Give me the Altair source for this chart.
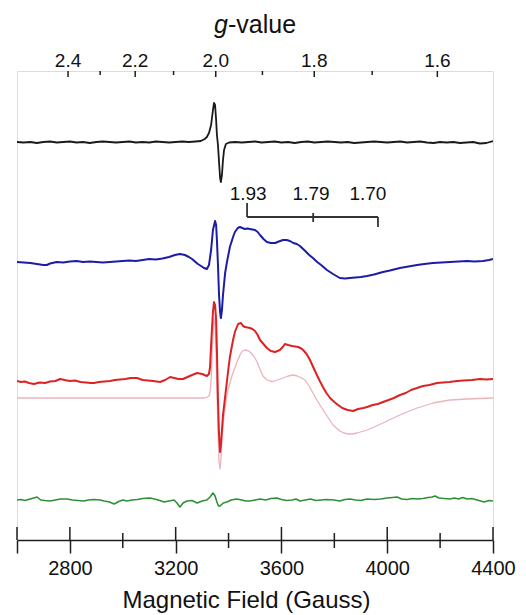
import altair as alt
import pandas as pd

FONT = "Liberation Sans"
INK = "#1e1e1e"

# ---------------- axes ----------------
field_domain = [2600, 4400]
field_major = [2600, 2800, 3200, 3600, 4000, 4400]
field_minor = [3000, 3400, 3800, 4200]
mw_freq_ghz = 9.382          # field (G) = 714.477 * freq / g
g_major = [2.4, 2.2, 2.0, 1.8, 1.6]
g_minor = [2.3, 2.1, 1.9, 1.7]

# annotation bracket (g = 1.93, 1.79, 1.70)
bracket_labels = ["1.93", "1.79", "1.70"]
bracket_label_field = [3474, 3712, 3927]
bracket_tick_field = [3470, 3720, 3965]
bracket_tick_lo = [323, 318, 313]
bracket_tick_hi = [337, 327, 323]
bracket_level = 323
bracket_label_level = 340

# ---------------- traces (offset intensity, arbitrary units) ----------------
black_field = [2600, 2625, 2650, 2675, 2700, 2725, 2750, 2775, 2800, 2825, 2850, 2875, 2900, 2925,
               2950, 2975, 3000, 3025, 3050, 3075, 3100, 3125, 3150, 3175, 3200, 3225, 3250, 3275,
               3295, 3310, 3318, 3326, 3334, 3341, 3345, 3349, 3353, 3356, 3360, 3364, 3368, 3371,
               3375, 3379, 3383, 3390, 3402, 3425, 3450, 3475, 3500, 3525, 3550, 3575, 3600, 3625,
               3650, 3675, 3700, 3725, 3750, 3775, 3800, 3825, 3850, 3875, 3900, 3925, 3950, 3975,
               4000, 4025, 4050, 4075, 4100, 4125, 4150, 4175, 4200, 4225, 4250, 4275, 4300, 4325,
               4350, 4375, 4400]
black_val = [398, 397.5, 398, 397, 398, 398.5, 397.5, 398, 398.5, 397.5, 398, 397, 398, 398.5,
             398, 397.5, 398, 398.5, 397.5, 398, 397.5, 398.5, 398, 397.5, 398, 398.5, 398, 398.5,
             399, 401, 403, 407, 415, 430, 437, 435, 420, 405, 395, 378, 362, 358,
             365, 380, 390, 396, 397.5, 398, 397.5, 398, 398.5, 397.5, 398, 398.5, 397.5, 398,
             397, 398, 398.5, 397.5, 398, 398.5, 398, 397.5, 398, 397, 397.5, 398, 398.5, 398,
             397.5, 398, 398.5, 397.5, 398, 398.5, 397.5, 397, 398, 397.5, 398, 397, 397.5, 398,
             396.5, 397, 399]

blue_field = [2600, 2625, 2650, 2675, 2700, 2713, 2725, 2750, 2775, 2800, 2825, 2850, 2875, 2900,
              2925, 2950, 2975, 3000, 3025, 3050, 3075, 3100, 3125, 3150, 3175, 3197, 3216, 3235,
              3250, 3262, 3275, 3284, 3296, 3307, 3318, 3326, 3334, 3341, 3349, 3353, 3356, 3360,
              3364, 3368, 3371, 3375, 3379, 3387, 3394, 3405, 3417, 3424, 3435, 3443, 3452, 3462,
              3472, 3481, 3490, 3500, 3510, 3519, 3532, 3545, 3560, 3576, 3590, 3606, 3620, 3632,
              3645, 3658, 3670, 3690, 3705, 3719, 3735, 3750, 3772, 3795, 3821, 3840, 3859, 3880,
              3900, 3924, 3950, 3984, 4010, 4048, 4080, 4113, 4140, 4173, 4205, 4237, 4270, 4302,
              4330, 4362, 4385, 4400]
blue_val = [278, 277.5, 277, 276, 275, 275, 276.5, 278, 277.5, 278.5, 279, 278, 278.5, 278,
            277.5, 278, 278.5, 279, 279.5, 279, 280, 281, 280.5, 281.5, 283, 285, 286, 285,
            283, 281, 278, 276, 274, 272, 271, 275, 290, 310, 319, 315, 300, 275,
            245, 228, 222, 230, 245, 267, 278, 293, 303, 308, 312, 313, 312, 311,
            311.5, 311, 310.5, 310, 308, 305, 301, 298, 297, 297, 298.5, 300, 300, 299,
            297, 296, 294, 289, 285, 282, 278, 275, 270, 266, 262, 261.5, 262, 262.5,
            263, 264, 265.5, 268, 269.5, 272, 273.5, 275, 276, 277, 277.5, 278, 278.5, 279,
            278.5, 279, 280, 281]

red_field = [2600, 2615, 2630, 2645, 2664, 2685, 2706, 2725, 2745, 2763, 2780, 2800, 2819, 2840,
             2860, 2880, 2891, 2910, 2930, 2952, 2970, 2990, 3010, 3030, 3054, 3075, 3095, 3115,
             3141, 3160, 3179, 3195, 3210, 3228, 3245, 3262, 3281, 3300, 3318, 3326, 3330, 3334,
             3337, 3341, 3345, 3349, 3353, 3356, 3360, 3364, 3368, 3371, 3375, 3379, 3387, 3398,
             3405, 3417, 3424, 3436, 3447, 3455, 3462, 3472, 3481, 3490, 3500, 3510, 3519, 3532,
             3545, 3560, 3576, 3594, 3605, 3613, 3625, 3640, 3652, 3663, 3675, 3682, 3695, 3708,
             3720, 3734, 3745, 3757, 3770, 3784, 3800, 3814, 3830, 3850, 3871, 3890, 3910, 3924,
             3945, 3965, 3984, 4005, 4025, 4048, 4070, 4090, 4113, 4135, 4160, 4188, 4210, 4235,
             4264, 4290, 4320, 4351, 4375, 4400]
red_val = [159, 158, 158.5, 157, 156, 157.5, 157, 158.5, 159, 161, 160, 159, 159.5, 158,
           157.5, 157, 157, 158, 158.5, 159, 160, 160.5, 161, 162, 162, 160, 159.5, 159,
           158, 160, 163, 162, 161, 161, 163, 165, 167, 166, 164, 166, 173, 195,
           210, 228, 238, 235, 220, 190, 140, 105, 88, 95, 110, 125, 143, 168,
           183, 200, 208, 216, 217, 214, 213, 212.5, 212, 211, 209, 205, 200, 196,
           192, 189, 188, 190, 193, 196, 195, 194, 193.5, 193, 191.5, 190, 186, 180,
           173, 165, 159, 153, 147, 142, 138, 135, 132, 130, 129, 131, 132, 133,
           135, 136, 138, 140, 142, 145, 147, 150, 152, 154, 155, 157, 157.5, 158,
           159, 159.5, 160, 161, 160.5, 161]

pink_field = [2600, 3000, 3310, 3320, 3326, 3330, 3334, 3337, 3341, 3345, 3349, 3353, 3356, 3360,
              3364, 3368, 3371, 3375, 3381, 3387, 3396, 3405, 3414, 3421, 3432, 3443, 3452, 3462,
              3472, 3481, 3495, 3508, 3520, 3530, 3545, 3557, 3568, 3585, 3606, 3625, 3644, 3660,
              3675, 3689, 3705, 3719, 3734, 3750, 3765, 3780, 3795, 3808, 3821, 3836, 3852, 3869,
              3886, 3905, 3924, 3950, 3984, 4015, 4048, 4080, 4113, 4145, 4173, 4205, 4237, 4270,
              4302, 4350, 4400]
pink_val = [142, 142, 142, 143, 144, 148, 160, 180, 205, 222, 215, 185, 150, 110,
            78, 71, 80, 100, 120, 133, 148, 157, 165, 170, 178, 185, 189, 190,
            189.5, 188, 184, 178, 170, 164, 160, 159, 158.5, 160, 162, 164, 165, 164,
            162, 160, 154, 147, 140, 133, 127, 121, 115, 112, 109, 107, 106, 106,
            107, 108.5, 110, 113, 117, 121, 125, 128.5, 132, 134.5, 137, 138.5, 140, 140.5,
            141, 141.5, 142]

green_field = [2600, 2615, 2630, 2650, 2676, 2690, 2705, 2725, 2745, 2765, 2789, 2810, 2830, 2853,
               2870, 2890, 2914, 2930, 2950, 2967, 2985, 3000, 3016, 3035, 3055, 3075, 3103, 3120,
               3140, 3156, 3175, 3194, 3205, 3216, 3228, 3243, 3262, 3281, 3300, 3318, 3330, 3341,
               3349, 3356, 3362, 3368, 3380, 3394, 3410, 3430, 3450, 3465, 3481, 3500, 3520, 3540,
               3560, 3583, 3600, 3620, 3640, 3655, 3670, 3690, 3710, 3730, 3750, 3770, 3799, 3820,
               3840, 3860, 3880, 3900, 3924, 3950, 3975, 4000, 4020, 4037, 4055, 4075, 4095, 4113,
               4135, 4155, 4170, 4181, 4195, 4215, 4237, 4255, 4270, 4285, 4302, 4320, 4340, 4366,
               4385, 4400]
green_val = [40, 40.5, 39.5, 41, 43, 40, 39.5, 39, 40, 41, 41, 40, 39.5, 39,
             40, 40.5, 40, 39, 38, 36, 38.5, 40, 39, 40, 40.5, 41.5, 42, 41,
             39.5, 38, 39, 40, 37, 33, 37, 39, 39.5, 37, 39, 40, 43, 47,
             44, 38, 34, 34, 37, 38, 40, 41, 40, 39, 39, 40, 41, 40,
             41.5, 42, 40.5, 39.5, 40, 41, 39, 40, 41, 39.5, 40, 40.5, 40, 39,
             40.5, 41, 40, 39.5, 41, 40.5, 41, 42, 42.5, 43, 41, 40.5, 41.5, 41,
             41.5, 42.5, 43, 44, 42, 41.5, 41, 42, 41, 42.5, 41, 41.5, 40, 38,
             39.5, 39]

# ---------------- build ----------------
W, H = 476, 469
xscale = alt.Scale(domain=field_domain, nice=False, zero=False)
yscale = alt.Scale(domain=[0, H], nice=False, zero=False)

x_axis = alt.Axis(values=field_major, labelExpr="datum.value == 2600 ? '' : datum.label",
                  format="d", tickSize=13, tickWidth=1.5, tickColor=INK,
                  domainColor=INK, domainWidth=1.5, labelFontSize=20, labelFont=FONT,
                  labelColor="#111", labelPadding=5, labelFlush=False,
                  title="Magnetic Field (Gauss)", titleFont=FONT, titleFontSize=24,
                  titleFontWeight="normal", titleColor="#111", titleX=229, titleY=67,
                  titleAlign="center", titleBaseline="alphabetic", grid=False)


def X(col="field"):
    return alt.X(f"{col}:Q", scale=xscale, axis=x_axis)


def Y(col="val"):
    return alt.Y(f"{col}:Q", scale=yscale, axis=None)


def trace(fields, vals, color, width):
    df = pd.DataFrame({"field": fields, "val": vals})
    return alt.Chart(df).mark_line(color=color, strokeWidth=width, strokeJoin="round",
                                   clip=True).encode(x=X(), y=Y())


major_df = pd.DataFrame({"field": field_major})
minor_df = pd.DataFrame({"field": field_minor})
bottom_major_in = alt.Chart(major_df).mark_rule(color=INK, strokeWidth=1.5).encode(
    x=X(), y=alt.value(H - 13), y2=alt.value(H))
bottom_minor = alt.Chart(minor_df).mark_rule(color=INK, strokeWidth=1.5).encode(
    x=X(), y=alt.value(H - 7), y2=alt.value(H + 8))

gmaj_df = pd.DataFrame({"g": g_major})
gmin_df = pd.DataFrame({"g": g_minor})
g_expr = f"714.477 * {mw_freq_ghz} / datum.g"
top_major = alt.Chart(gmaj_df).transform_calculate(field=g_expr).mark_rule(
    color=INK, strokeWidth=1.5).encode(x=X(), y=alt.value(0), y2=alt.value(6))
top_minor = alt.Chart(gmin_df).transform_calculate(field=g_expr).mark_rule(
    color=INK, strokeWidth=1.5).encode(x=X(), y=alt.value(0), y2=alt.value(4))
top_labels = alt.Chart(gmaj_df).transform_calculate(field=g_expr).mark_text(
    font=FONT, fontSize=19, color="#111", baseline="alphabetic", align="center").encode(
    x=X(), y=alt.value(-4), text=alt.Text("g:Q", format=".1f"))

title_df = pd.DataFrame({"t": ["g"], "u": ["-value"]})
g_title = alt.Chart(title_df).mark_text(
    font=FONT, fontSize=25, fontStyle="italic", color="#111", baseline="alphabetic",
    align="right").encode(x=alt.value(211), y=alt.value(-38), text="t:N")
value_title = alt.Chart(title_df).mark_text(
    font=FONT, fontSize=25, color="#111", baseline="alphabetic", align="left").encode(
    x=alt.value(211), y=alt.value(-38), text="u:N")

# bracket annotation
br_h = pd.DataFrame({"field": [bracket_tick_field[0]], "field2": [bracket_tick_field[-1]],
                     "val": [bracket_level]})
br_v = pd.DataFrame({"field": bracket_tick_field, "val": bracket_tick_lo, "val2": bracket_tick_hi})
br_t = pd.DataFrame({"field": bracket_label_field, "val": [bracket_label_level] * 3,
                     "lab": bracket_labels})
bracket_h = alt.Chart(br_h).mark_rule(color="#333", strokeWidth=1.8).encode(
    x=X(), x2="field2:Q", y=Y())
bracket_v = alt.Chart(br_v).mark_rule(color="#333", strokeWidth=1.8).encode(
    x=X(), y=Y(), y2="val2:Q")
bracket_t = alt.Chart(br_t).mark_text(font=FONT, fontSize=19, color="#111",
                                      baseline="alphabetic", align="center").encode(
    x=X(), y=Y(), text="lab:N")

chart = alt.layer(
    trace(black_field, black_val, "#1a1a1a", 1.8),
    trace(blue_field, blue_val, "#1c1ca6", 2.0),
    trace(pink_field, pink_val, "#ebb3ba", 1.3),
    trace(red_field, red_val, "#dc2222", 2.0),
    trace(green_field, green_val, "#2f8f35", 1.6),
    bottom_major_in, bottom_minor, top_major, top_minor, top_labels,
    g_title, value_title, bracket_h, bracket_v, bracket_t,
).properties(
    width=W, height=H,
    autosize=alt.AutoSizeParams(type="none"),
    padding={"left": 9, "top": 63, "right": 25, "bottom": 74},
).configure_view(stroke=INK, strokeWidth=1.5).configure(background="white")

chart.save("out.html", embed_options={"renderer": "svg", "actions": False})
